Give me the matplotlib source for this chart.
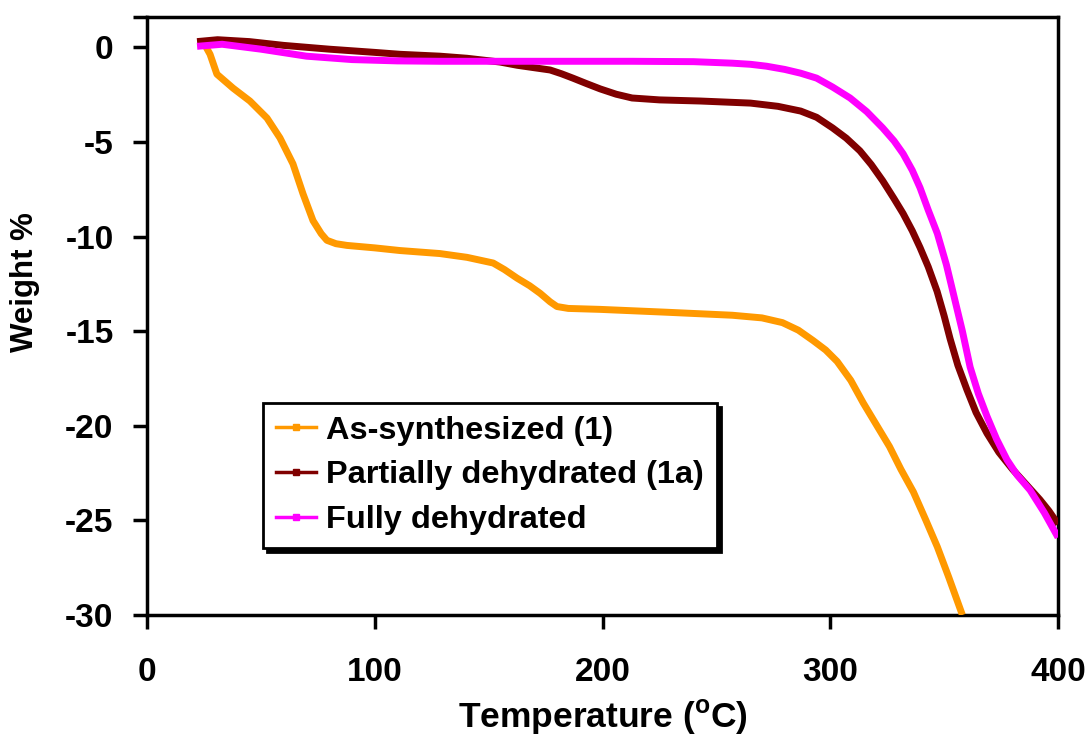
import matplotlib
matplotlib.use("Agg")
import matplotlib.pyplot as plt
from matplotlib.lines import Line2D

plt.rcParams['font.family'] = ['Liberation Sans', 'DejaVu Sans']
plt.rcParams['font.weight'] = 'bold'
plt.rcParams['axes.unicode_minus'] = False
plt.rcParams['mathtext.fontset'] = 'custom'
plt.rcParams['mathtext.rm'] = 'Liberation Sans:bold'
plt.rcParams['mathtext.bf'] = 'Liberation Sans:bold'

# TGA traces: temperature (C) vs weight change (%)
as_syn_t = [26, 27.7, 30.7, 37.8, 45.2, 52.7, 58.4, 64.1, 68.5, 72.9, 76.5, 79, 83,
            87.8, 100, 111, 128.6, 140.5, 152, 157, 162.5, 168, 172.6, 177, 180,
            185, 199, 228, 257, 270, 279, 286, 292.5, 298, 303, 309, 314.5, 320,
            326, 331, 336.5, 342, 347, 352, 358]
as_syn_w = [0.0, -0.37, -1.42, -2.16, -2.84, -3.74, -4.79, -6.16, -7.74, -9.16, -9.85, -10.2, -10.38,
            -10.47, -10.6, -10.74, -10.9, -11.1, -11.4, -11.75, -12.2, -12.6, -13.0, -13.45, -13.7,
            -13.8, -13.85, -14.0, -14.16, -14.3, -14.55, -14.95, -15.5, -16.0, -16.6, -17.6, -18.8, -19.9,
            -21.1, -22.3, -23.5, -25.0, -26.4, -28.0, -30.0]

part_t = [22, 31, 45, 60, 80, 100, 111, 128.6, 140.5, 155, 162.5, 170, 177, 182, 187,
          193, 199, 206, 213, 225, 243, 265, 277, 287, 294, 301, 307, 313, 318, 323,
          328, 332, 336, 339.4, 343, 346.9, 350, 352.6, 356, 360, 364, 368.8, 374,
          380, 386, 392, 396, 400]
part_w = [0.3, 0.4, 0.3, 0.1, -0.1, -0.27, -0.37, -0.47, -0.58, -0.78, -0.95, -1.08, -1.2, -1.4, -1.63,
          -1.92, -2.2, -2.48, -2.68, -2.78, -2.84, -2.95, -3.12, -3.37, -3.7, -4.26, -4.8, -5.47, -6.2, -7.05,
          -8.0, -8.79, -9.7, -10.58, -11.6, -12.9, -14.2, -15.4, -16.8, -18.1, -19.3, -20.4, -21.4,
          -22.3, -23.1, -23.9, -24.5, -25.2]

full_t = [22, 33, 50, 70, 90, 110, 128.6, 155, 185, 213, 240, 257, 265, 272, 280, 287,
          294, 301, 308.7, 316, 323, 328, 332, 336, 339.4, 343, 347, 351, 354, 358,
          361.4, 365, 368.8, 373, 377.6, 382, 387.7, 394, 400]
full_w = [0.05, 0.16, -0.1, -0.47, -0.65, -0.72, -0.74, -0.74, -0.74, -0.74, -0.76, -0.84, -0.9, -1.0, -1.17, -1.37,
          -1.63, -2.1, -2.68, -3.4, -4.26, -4.95, -5.63, -6.5, -7.42, -8.6, -9.84, -11.5, -13.0, -15.0,
          -16.9, -18.3, -19.5, -20.7, -21.8, -22.6, -23.4, -24.6, -25.9]

series_labels = ['As-synthesized (1)', 'Partially dehydrated (1a)', 'Fully dehydrated']
series_colors = ['#FF9900', '#800000', '#FF00FF']

x_ticks = [0, 100, 200, 300, 400]
y_ticks = [0, -5, -10, -15, -20, -25, -30]

fig = plt.figure(figsize=(10.91, 7.36), dpi=100)
ax = fig.add_axes([0.1347, 0.1644, 0.8351, 0.8125])

for t, w, c in zip([as_syn_t, part_t, full_t], [as_syn_w, part_w, full_w], series_colors):
    ax.plot(t, w, color=c, lw=5, solid_capstyle='butt', solid_joinstyle='round', zorder=3)

ax.set_xlim(0, 400)
ax.set_ylim(-30, 1.6)
ax.set_xticks(x_ticks)
ax.set_yticks(y_ticks)
# extra tick at the top edge of the value axis
ax.set_yticks([1.6], minor=True)
ax.tick_params(which='minor', axis='y', length=10, width=2.5, direction='out')
ax.tick_params(which='major', length=10, width=2.5, direction='out', labelsize=24)
ax.tick_params(axis='x', pad=20)
ax.tick_params(axis='y', pad=14)
for s in ax.spines.values():
    s.set_linewidth(2.5)

ax.set_xlabel(r'Temperature ($^{\mathbf{o}}$C)', fontsize=25.5, fontweight='bold')
ax.set_ylabel('Weight %', fontsize=22.5, fontweight='bold')
ax.xaxis.set_label_coords(0.5, -0.171)
ax.xaxis.label.set_va('center')
ax.yaxis.set_label_coords(-0.134, 0.557)
ax.yaxis.label.set_va('center')

handles = [Line2D([], [], color=c, lw=2.5, marker='s', ms=4) for c in series_colors]
leg = ax.legend(handles, series_labels, loc='lower left', bbox_to_anchor=(0.127, 0.112),
                borderaxespad=0, fontsize=23.4, handlelength=1.25, handletextpad=0.3,
                labelspacing=0.45, borderpad=0.4, fancybox=False, framealpha=1,
                edgecolor='black', shadow={'color': 'black', 'alpha': 1, 'ox': 3, 'oy': -3})
leg.get_frame().set_linewidth(2)

fig.savefig('out.png', dpi=100)
